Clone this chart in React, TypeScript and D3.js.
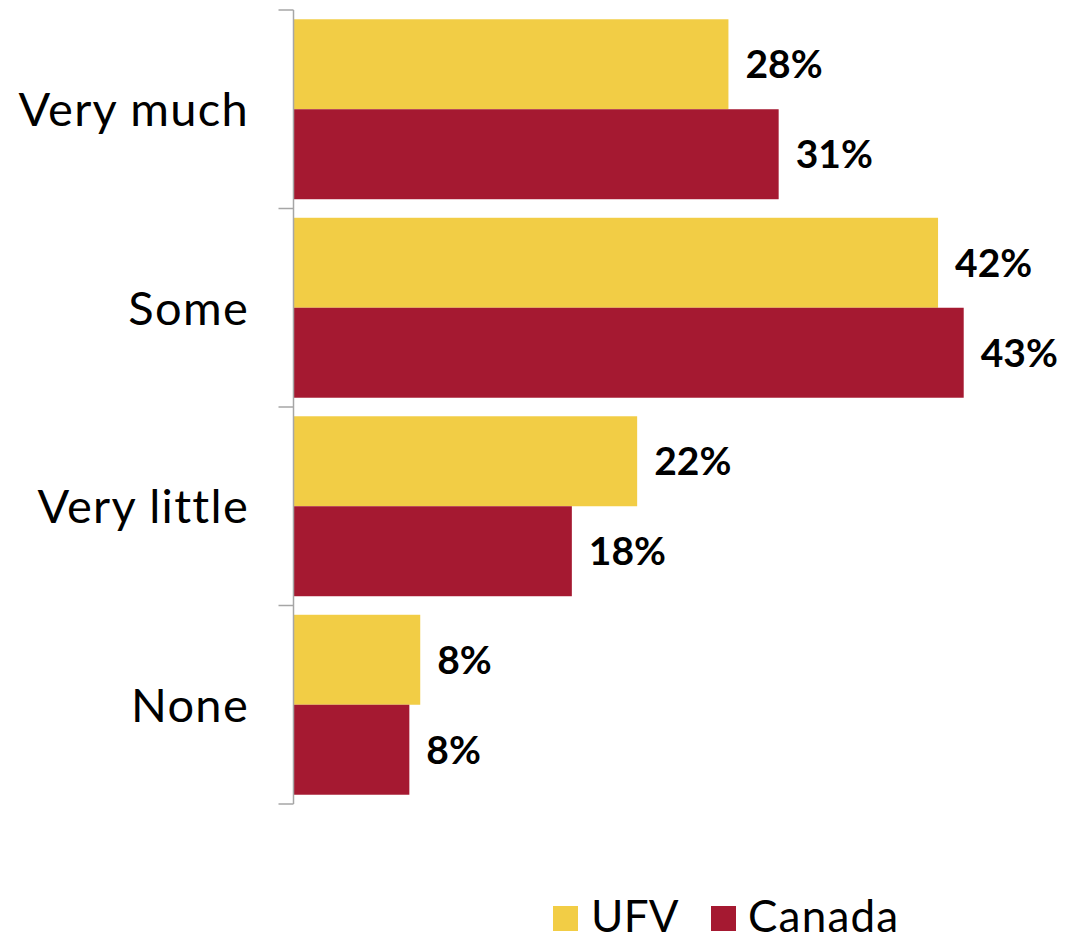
import React from "react";
import * as d3 from "d3";

const categories = ["Very much", "Some", "Very little", "None"];
const seriesNames = ["UFV", "Canada"];
const ufvValues = [27.97, 41.45, 22.1, 8.15];
const canadaValues = [31.2, 43.1, 17.9, 7.45];
const ufvLabels = ["28%", "42%", "22%", "8%"];
const canadaLabels = ["31%", "43%", "18%", "8%"];
const colors = ["#F2CD45", "#A51931"];

const W = 1069;
const H = 938;
const axisX = 293.5;
const FONT = "Lato, 'Open Sans', sans-serif";

export default function App() {
  const x = d3.scaleLinear().domain([0, 45]).range([axisX, axisX + 45 * 15.55]);
  const y = d3.scaleBand<string>().domain(categories).range([10, 804]).padding(0);
  const inner = d3
    .scaleBand<string>()
    .domain(seriesNames)
    .range([0, y.bandwidth()])
    .paddingInner(0)
    .paddingOuter(0.103);

  const series = [
    { name: seriesNames[0], values: ufvValues, labels: ufvLabels, color: colors[0] },
    { name: seriesNames[1], values: canadaValues, labels: canadaLabels, color: colors[1] },
  ];

  const boundaries = categories.map((c) => y(c)!).concat([y(categories[categories.length - 1])! + y.bandwidth()]);

  return (
    <svg
      width={W}
      height={H}
      style={{ position: "absolute", left: 0, top: 0, background: "#fff" }}
      fontFamily={FONT}
    >
      {series.map((s) =>
        categories.map((c, i) => {
          const by = y(c)! + inner(s.name)!;
          const bh = inner.bandwidth();
          return (
            <g key={s.name + c}>
              <rect x={x(0)} y={by} width={x(s.values[i]) - x(0)} height={bh} fill={s.color} />
              <text
                x={x(s.values[i]) + 17}
                y={by + bh / 2}
                dy="0.36em"
                fontSize={39}
                fontWeight={700}
                fill="#000"
              >
                {s.labels[i]}
              </text>
            </g>
          );
        })
      )}
      <line x1={axisX} x2={axisX} y1={boundaries[0]} y2={boundaries[boundaries.length - 1]} stroke="#A6A6A6" strokeWidth={1.5} />
      {boundaries.map((b, i) => (
        <line key={i} x1={axisX - 15} x2={axisX} y1={b} y2={b} stroke="#A6A6A6" strokeWidth={1.5} />
      ))}
      {categories.map((c) => (
        <text
          key={c}
          x={249}
          y={y(c)! + y.bandwidth() / 2}
          dy="0.36em"
          textAnchor="end"
          fontSize={47}
          letterSpacing={1.3}
          fill="#000"
        >
          {c}
        </text>
      ))}
      <g>
        <rect x={553} y={906} width={25} height={25} fill={colors[0]} />
        <text x={591} y={932} fontSize={44} letterSpacing={0.3} fill="#000">{seriesNames[0]}</text>
        <rect x={711} y={906} width={25} height={25} fill={colors[1]} />
        <text x={748} y={932} fontSize={44} letterSpacing={1.2} fill="#000">{seriesNames[1]}</text>
      </g>
    </svg>
  );
}
